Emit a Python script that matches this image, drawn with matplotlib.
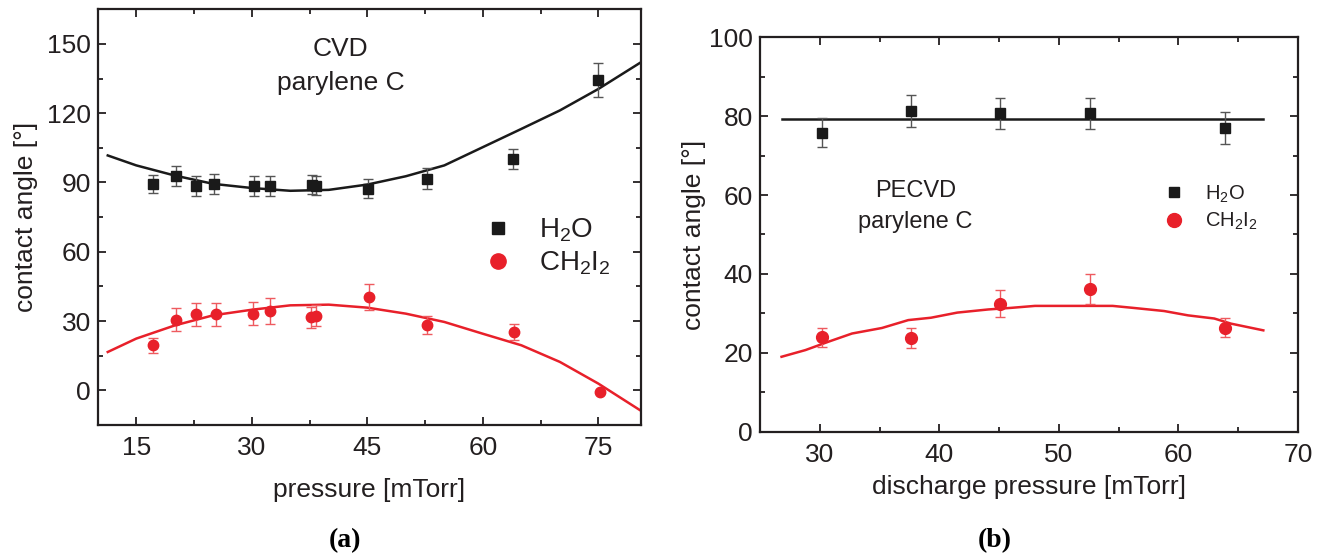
import matplotlib
matplotlib.use('Agg')
import matplotlib.pyplot as plt
from matplotlib.lines import Line2D
from matplotlib.ticker import MultipleLocator

plt.rcParams['font.family'] = ['Liberation Sans', 'DejaVu Sans']
plt.rcParams['mathtext.fontset'] = 'custom'
plt.rcParams['mathtext.rm'] = 'Liberation Sans'
plt.rcParams['mathtext.it'] = 'Liberation Sans'
plt.rcParams['mathtext.bf'] = 'Liberation Sans:bold'

TXT = '#231f20'
RED = '#e8202a'
RED_ERR = '#ee5a5f'
BLK_ERR = '#555555'

# (a) CVD parylene C
cvd_p = [17.2, 20.2, 22.8, 25.1, 30.3, 32.3, 37.8, 38.3, 45.1, 52.7, 63.9, 75.0]
cvd_h2o = [89.4, 92.7, 88.4, 89.4, 88.4, 88.4, 89.1, 88.6, 87.3, 91.6, 100.2, 134.4]
cvd_h2o_err = [4.0, 4.3, 4.2, 4.2, 4.2, 4.2, 4.2, 4.0, 4.2, 4.5, 4.5, 7.2]
cvd_p_ch2i2 = [17.2, 20.2, 22.8, 25.3, 30.2, 32.3, 37.7, 38.3, 45.2, 52.7, 64.0, 75.2]
cvd_ch2i2 = [19.5, 30.6, 32.9, 32.9, 33.2, 34.3, 31.7, 32.3, 40.4, 28.4, 25.1, -0.7]
cvd_ch2i2_err = [3.2, 5.0, 5.0, 5.0, 5.0, 5.5, 4.5, 4.5, 5.8, 4.0, 3.5, 0.0]

cvd_fit_p = [11.3, 15, 20, 25, 30, 35, 40, 45, 50, 55, 60, 65, 70, 75, 80.5]
cvd_fit_h2o = [101.7, 97.4, 93.0, 89.4, 87.6, 86.4, 86.8, 89.1, 92.7, 97.4, 105.3, 113.2, 121.2, 130.5, 142.0]
cvd_fit_ch2i2 = [16.6, 22.4, 28.1, 32.5, 34.9, 36.8, 37.1, 35.8, 33.2, 29.6, 24.5, 19.5, 12.3, 2.9, -8.8]

# (b) PECVD parylene C
pe_p = [30.2, 37.6, 45.1, 52.6, 63.9]
pe_h2o = [75.8, 81.3, 80.7, 80.7, 77.0]
pe_h2o_err = [3.7, 4.0, 4.0, 4.0, 4.0]
pe_ch2i2 = [23.9, 23.8, 32.5, 36.1, 26.4]
pe_ch2i2_err = [2.5, 2.5, 3.4, 3.8, 2.5]

pe_fit_h2o_p = [26.8, 67.1]
pe_fit_h2o = [79.4, 79.4]
pe_fit_p = [26.8, 28.8, 30.8, 32.7, 35.2, 37.4, 39.3, 41.5, 44.1, 46.0, 48.0,
            54.5, 56.2, 58.8, 60.8, 63.0, 64.4, 67.1]
pe_fit_ch2i2 = [19.0, 20.7, 22.9, 24.9, 26.3, 28.3, 28.9, 30.2, 31.0, 31.4, 31.9,
                31.9, 31.4, 30.6, 29.5, 28.7, 27.4, 25.7]

fig = plt.figure(figsize=(13.28, 5.58), dpi=100)
ax1 = fig.add_axes([0.0736, 0.2384, 0.4089, 0.745])
ax2 = fig.add_axes([0.5723, 0.2263, 0.4051, 0.7069])


def style_axes(ax, xmaj, xmin, ymaj, ymin):
  for s in ax.spines.values():
    s.set_linewidth(1.6)
    s.set_color(TXT)
  ax.xaxis.set_major_locator(MultipleLocator(xmaj))
  ax.xaxis.set_minor_locator(MultipleLocator(xmin))
  ax.yaxis.set_major_locator(MultipleLocator(ymaj))
  ax.yaxis.set_minor_locator(MultipleLocator(ymin))
  ax.tick_params(which='both', direction='in', top=True, right=True, color=TXT, width=1.3)
  ax.tick_params(which='major', length=6, labelsize=19, labelcolor=TXT)
  ax.tick_params(which='minor', length=3.5)
  ax.tick_params(axis='x', pad=8)
  ax.tick_params(axis='y', pad=5)


# ---- panel (a)
ax1.plot(cvd_fit_p, cvd_fit_h2o, color='#1a1a1a', lw=1.8)
ax1.plot(cvd_fit_p, cvd_fit_ch2i2, color=RED, lw=1.8)
ax1.errorbar(cvd_p, cvd_h2o, yerr=cvd_h2o_err, fmt='s', color='#1a1a1a', ms=7.5,
             ecolor=BLK_ERR, elinewidth=1.0, capsize=3.5, capthick=1.0)
ax1.errorbar(cvd_p_ch2i2, cvd_ch2i2, yerr=cvd_ch2i2_err, fmt='o', color=RED, ms=7.5,
             ecolor=RED_ERR, elinewidth=1.0, capsize=3.5, capthick=1.0)
ax1.set_xlim(10, 80.5)
ax1.set_ylim(-15, 165)
style_axes(ax1, 15, 7.5, 30, 15)
ax1.set_xlabel('pressure [mTorr]', fontsize=19, color=TXT, labelpad=13)
ax1.set_ylabel('contact angle [°]', fontsize=19, color=TXT, labelpad=6)
ax1.text(41.5, 148, 'CVD', fontsize=19, color=TXT, ha='center', va='center')
ax1.text(41.5, 133, 'parylene C', fontsize=19, color=TXT, ha='center', va='center')

h1 = [Line2D([], [], ls='none', marker='s', color='#1a1a1a', ms=8.5),
      Line2D([], [], ls='none', marker='o', color=RED, ms=11)]
ax1.legend(h1, ['H$_2$O', 'CH$_2$I$_2$'], loc='center left', bbox_to_anchor=(0.712, 0.428),
           frameon=False, fontsize=20, handlelength=1, handletextpad=0.95,
           labelspacing=0.2, borderpad=0, borderaxespad=0, labelcolor=TXT)

# ---- panel (b)
ax2.plot(pe_fit_h2o_p, pe_fit_h2o, color='#1a1a1a', lw=1.8)
ax2.plot(pe_fit_p, pe_fit_ch2i2, color=RED, lw=1.8)
ax2.errorbar(pe_p, pe_h2o, yerr=pe_h2o_err, fmt='s', color='#1a1a1a', ms=7.5,
             ecolor=BLK_ERR, elinewidth=1.0, capsize=3.5, capthick=1.0)
ax2.errorbar(pe_p, pe_ch2i2, yerr=pe_ch2i2_err, fmt='o', color=RED, ms=8.5,
             ecolor=RED_ERR, elinewidth=1.0, capsize=3.5, capthick=1.0)
ax2.set_xlim(25, 70)
ax2.set_ylim(0, 100)
style_axes(ax2, 10, 5, 20, 10)
ax2.set_xlabel('discharge pressure [mTorr]', fontsize=19, color=TXT, labelpad=6)
ax2.set_ylabel('contact angle [°]', fontsize=19, color=TXT, labelpad=2)
ax2.text(38.0, 61.1, 'PECVD', fontsize=17, color=TXT, ha='center', va='center')
ax2.text(38.0, 53.2, 'parylene C', fontsize=17, color=TXT, ha='center', va='center')

h2 = [Line2D([], [], ls='none', marker='s', color='#1a1a1a', ms=7),
      Line2D([], [], ls='none', marker='o', color=RED, ms=10)]
ax2.legend(h2, ['H$_2$O', 'CH$_2$I$_2$'], loc='center left', bbox_to_anchor=(0.750, 0.568),
           frameon=False, fontsize=14.5, handlelength=1, handletextpad=1.05,
           labelspacing=0.3, borderpad=0, borderaxespad=0, labelcolor=TXT)

fig.text(0.2598, 0.032, '(a)', fontsize=20, fontweight='bold', family='Liberation Serif',
         ha='center', va='center', color='black')
fig.text(0.7492, 0.032, '(b)', fontsize=20, fontweight='bold', family='Liberation Serif',
         ha='center', va='center', color='black')

fig.savefig('out.png', dpi=100)
